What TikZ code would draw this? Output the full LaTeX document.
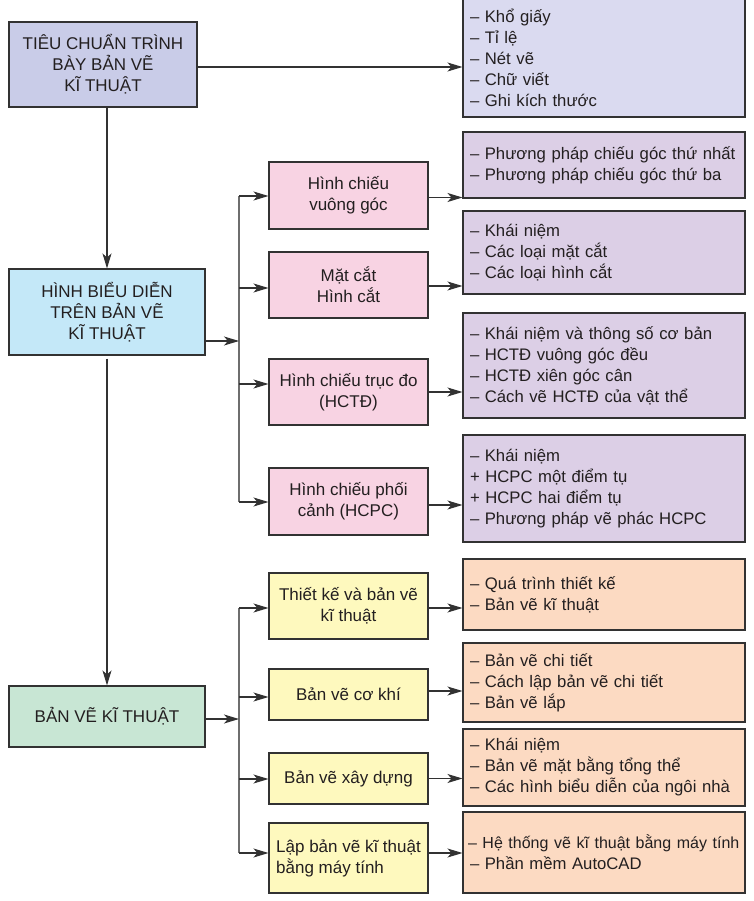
\documentclass[tikz,border=0pt]{standalone}
\usepackage{fontspec}
\setmainfont{Liberation Sans}
\usetikzlibrary{arrows.meta}
\definecolor{cA}{RGB}{201,204,232}
\definecolor{cL0}{RGB}{218,218,240}
\definecolor{cQ}{RGB}{220,207,230}
\definecolor{cP}{RGB}{248,211,227}
\definecolor{cB}{RGB}{196,232,248}
\definecolor{cC}{RGB}{200,230,212}
\definecolor{cY}{RGB}{254,249,190}
\definecolor{cR}{RGB}{252,218,194}
\definecolor{ln}{RGB}{50,50,50}
\definecolor{trk}{RGB}{110,110,110}
\definecolor{tx}{RGB}{35,31,32}
\begin{document}
\begin{tikzpicture}[x=1pt,y=-1pt,
  every node/.style={text=tx},
  mainbox/.style={draw=ln,line width=1.1pt,inner sep=0pt,align=center,
    font=\fontsize{17}{21}\selectfont},
  midbox/.style={draw=ln,line width=1.1pt,inner sep=0pt,align=center,
    minimum width=159pt,font=\fontsize{17}{21}\selectfont},
  listbox/.style={draw=ln,line width=1.1pt,inner xsep=3pt,inner ysep=0pt,align=left,
    text width=276pt,font=\fontsize{16.7}{21}\selectfont,
    execute at begin node={\leftskip=4pt}},
  conn/.style={draw=trk,line width=1.5pt},
  arr/.style={draw=ln,line width=1.1pt,-{Stealth[length=15pt,width=9pt,inset=4pt]}}
]
\useasboundingbox (0,0) rectangle (753,901);
\fill[white] (0,0) rectangle (753,901);

% main column
\node[mainbox,fill=cA,minimum width=188pt,minimum height=85pt] (A) at (103,64.5)
  {TIÊU CHUẨN TRÌNH\\BÀY BẢN VẼ\\KĨ THUẬT};
\node[mainbox,fill=cB,minimum width=196pt,minimum height=86pt] (B) at (107,312)
  {HÌNH BIỂU DIỄN\\TRÊN BẢN VẼ\\KĨ THUẬT};
\node[mainbox,fill=cC,minimum width=196pt,minimum height=61pt] (C) at (107,716.5)
  {BẢN VẼ KĨ THUẬT};

% top-right list
\node[listbox,fill=cL0,minimum height=119pt] (L0) at (604,57.5)
  {– Khổ giấy\\– Tỉ lệ\\– Nét vẽ\\– Chữ viết\\– Ghi kích thước};

% pink boxes
\node[midbox,fill=cP,minimum height=67pt] (P1) at (348.5,195.5) {Hình chiếu\\vuông góc};
\node[midbox,fill=cP,minimum height=66pt] (P2) at (348.5,285) {Mặt cắt\\Hình cắt};
\node[midbox,fill=cP,minimum height=66pt] (P3) at (348.5,392) {Hình chiếu trục đo\\(HCTĐ)};
\node[midbox,fill=cP,minimum height=67pt] (P4) at (348.5,501.5) {Hình chiếu phối\\cảnh (HCPC)};

% purple lists
\node[listbox,fill=cQ,minimum height=66pt] (Q1) at (604,165)
  {\mbox{– Phương pháp chiếu góc thứ nhất}\\– Phương pháp chiếu góc thứ ba};
\node[listbox,fill=cQ,minimum height=83pt] (Q2) at (604,252.5)
  {– Khái niệm\\– Các loại mặt cắt\\– Các loại hình cắt};
\node[listbox,fill=cQ,minimum height=105pt] (Q3) at (604,365.5)
  {– Khái niệm và thông số cơ bản\\– HCTĐ vuông góc đều\\– HCTĐ xiên góc cân\\– Cách vẽ HCTĐ của vật thể};
\node[listbox,fill=cQ,minimum height=107pt] (Q4) at (604,488.5)
  {– Khái niệm\\+ HCPC một điểm tụ\\+ HCPC hai điểm tụ\\– Phương pháp vẽ phác HCPC};

% yellow boxes
\node[midbox,fill=cY,minimum height=66pt] (Y1) at (348.5,606) {Thiết kế và bản vẽ\\kĩ thuật};
\node[midbox,fill=cY,minimum height=51pt] (Y2) at (348.5,694.5) {Bản vẽ cơ khí};
\node[midbox,fill=cY,minimum height=51pt] (Y3) at (348.5,778.5) {Bản vẽ xây dựng};
\node[midbox,fill=cY,minimum height=70pt,align=left] (Y4) at (348.5,858)
  {Lập bản vẽ kĩ thuật\\bằng máy tính};

% orange lists
\node[listbox,fill=cR,minimum height=71pt] (R1) at (604,594.5)
  {– Quá trình thiết kế\\– Bản vẽ kĩ thuật};
\node[listbox,fill=cR,minimum height=79pt] (R2) at (604,682.5)
  {– Bản vẽ chi tiết\\– Cách lập bản vẽ chi tiết\\– Bản vẽ lắp};
\node[listbox,fill=cR,minimum height=77pt] (R3) at (604,767.5)
  {– Khái niệm\\– Bản vẽ mặt bằng tổng thể\\– Các hình biểu diễn của ngôi nhà};
\node[listbox,fill=cR,minimum height=81pt] (R4) at (604,852.5)
  {\hspace*{-2pt}\mbox{\fontsize{16}{21}\selectfont – Hệ thống vẽ kĩ thuật bằng máy tính}\\– Phần mềm AutoCAD};

% trunk coordinates
\coordinate (T1) at (239,341);
\coordinate (T2) at (239,719);

% upper tree
\draw[conn] ([yshift=-0.5pt]P1.west -| T1) -- ([yshift=-0.5pt]P4.west -| T1);
\draw[arr] ([yshift=-29pt]B.east) -- (T1);
\draw[arr] ([yshift=-0.5pt]P1.west -| T1) -- ([yshift=-0.5pt]P1.west);
\draw[arr] ([yshift=-3pt]P2.west -| T1) -- ([yshift=-3pt]P2.west);
\draw[arr] ([yshift=8pt]P3.west -| T1) -- ([yshift=8pt]P3.west);
\draw[arr] ([yshift=-0.5pt]P4.west -| T1) -- ([yshift=-0.5pt]P4.west);
\draw[arr] ([yshift=-2pt]P1.east) -- ([yshift=-2pt]P1.east -| Q1.west);
\draw[arr] ([yshift=-1pt]P2.east) -- ([yshift=-1pt]P2.east -| Q2.west);
\draw[arr] (P3.east) -- (P3.east -| Q3.west);
\draw[arr] ([yshift=-3.5pt]P4.east) -- ([yshift=-3.5pt]P4.east -| Q4.west);

% lower tree
\draw[conn] ([yshift=-2pt]Y1.west -| T2) -- ([yshift=5pt]Y4.west -| T2);
\draw[arr] ([yshift=-2.5pt]C.east) -- (T2);
\draw[arr] ([yshift=-2pt]Y1.west -| T2) -- ([yshift=-2pt]Y1.west);
\draw[arr] ([yshift=-2.5pt]Y2.west -| T2) -- ([yshift=-2.5pt]Y2.west);
\draw[arr] ([yshift=-0.5pt]Y3.west -| T2) -- ([yshift=-0.5pt]Y3.west);
\draw[arr] ([yshift=5pt]Y4.west -| T2) -- ([yshift=5pt]Y4.west);
\draw[arr] ([yshift=-2pt]Y1.east) -- ([yshift=-2pt]Y1.east -| R1.west);
\draw[arr] ([yshift=3.5pt]Y2.east) -- ([yshift=3.5pt]Y2.east -| R2.west);
\draw[arr] (Y3.east) -- (Y3.east -| R3.west);
\draw[arr] ([yshift=5pt]Y4.east) -- ([yshift=5pt]Y4.east -| R4.west);

% main column connectors
\draw[arr] ([yshift=-2.5pt]A.east) -- ([yshift=-2.5pt]A.east -| L0.west);
\draw[arr] (B.north |- A.south) -- (B.north);
\draw[arr] ([yshift=-3pt]B.south) -- (C.north);
\end{tikzpicture}
\end{document}
